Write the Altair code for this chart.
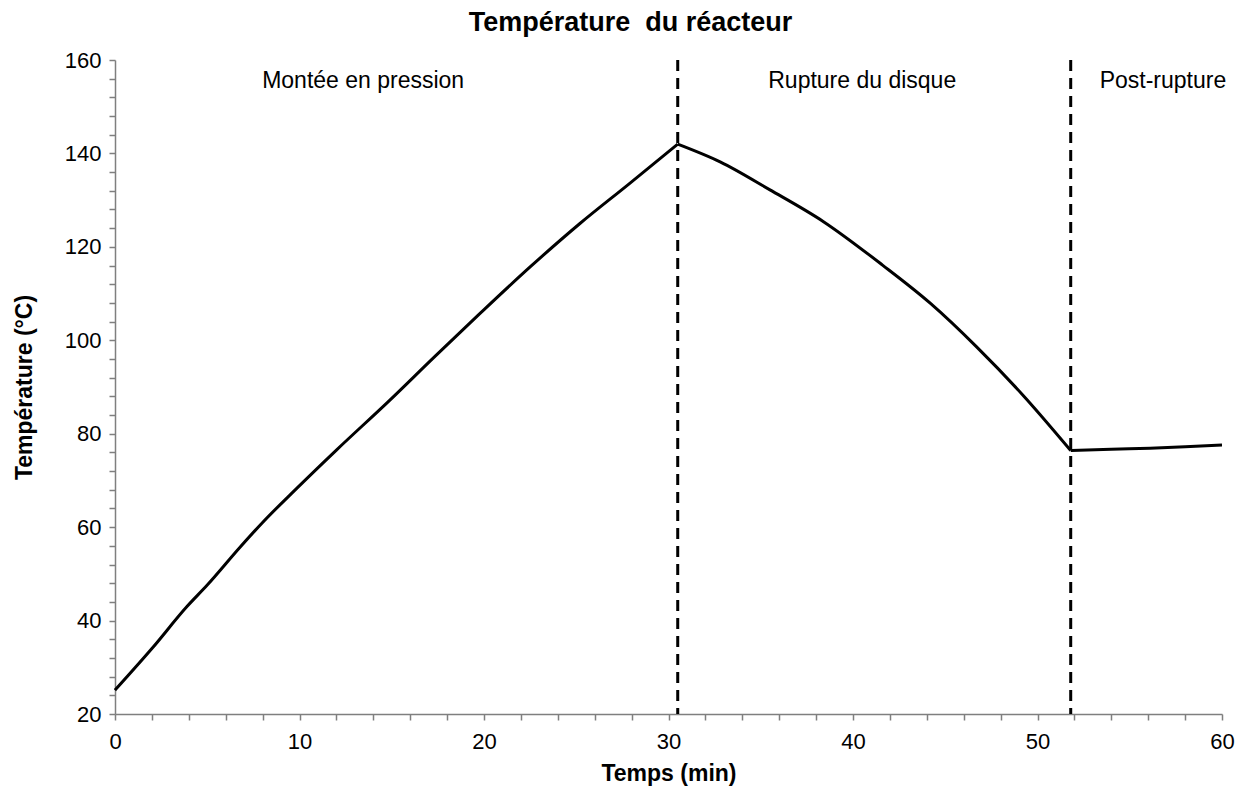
import altair as alt
import pandas as pd

# Temperature curve, split by phase
time_min = [0, 2.0, 3.9, 5.0, 6.8, 8.0, 9.85, 12.0, 14.9, 17.3, 19.8, 22.5, 25.2, 27.9, 30.5,
            30.5, 32.8, 35.5, 38.4, 41.6, 44.2, 46.7, 49.2, 51.8,
            51.8, 54.0, 56.1, 58.0, 60.0]
temp_c = [25.1, 34.0, 43.0, 47.6, 55.8, 61.0, 68.3, 76.5, 87.2, 96.4, 105.8, 115.7, 125.0, 133.6, 142.0,
          142.0, 138.2, 132.2, 125.4, 116.1, 107.9, 98.6, 88.3, 76.4,
          76.4, 76.7, 76.9, 77.2, 77.6]
segment = ["a"] * 15 + ["b"] * 9 + ["c"] * 5

# Phase boundaries (dashed lines)
phase_limits = [30.5, 51.8]

# Phase labels
phase_names = ["Montée en pression", "Rupture du disque", "Post-rupture"]
phase_label_x = [13.45, 40.5, 56.8]
phase_label_y = [155.6, 155.6, 155.6]

x_ticks = [v for v in range(0, 61, 2)]
y_ticks = [v for v in range(20, 161, 4)]

curve = pd.DataFrame({"t": time_min, "T": temp_c, "seg": segment})
limits = pd.DataFrame({"t": phase_limits})
labels = pd.DataFrame({"t": phase_label_x, "T": phase_label_y, "name": phase_names})

FONT = "Liberation Sans"

x_scale = alt.Scale(domain=[0, 60], nice=False, zero=False)
y_scale = alt.Scale(domain=[20, 160], nice=False, zero=False)

common = dict(
    grid=False, tickSize=6, domainColor="#7f7f7f", tickColor="#7f7f7f",
    domainWidth=1.5, tickWidth=1.5, labelColor="#000000", labelFontSize=22,
    labelFont=FONT, titleFont=FONT, titleFontSize=23, titleFontWeight="bold",
    titleColor="#000000", labelFlush=False, labelOverlap=False, labelBound=False,
    tickCount=200, format="d",
)
x_axis = alt.Axis(
    title="Temps (min)", values=x_ticks,
    labelExpr="datum.value % 10 == 0 ? datum.label : ''",
    labelPadding=11, titlePadding=10, **common,
)
y_axis = alt.Axis(
    title="Température (°C)", values=y_ticks,
    labelExpr="datum.value % 20 == 0 ? datum.label : ''",
    labelPadding=8, titlePadding=28, **common,
)

line = alt.Chart(curve).mark_line(color="#000000", strokeWidth=3, interpolate="monotone").encode(
    x=alt.X("t:Q", scale=x_scale, axis=x_axis),
    y=alt.Y("T:Q", scale=y_scale, axis=y_axis),
    detail="seg:N",
)

rules = alt.Chart(limits).mark_rule(color="#000000", strokeWidth=3, strokeDash=[11, 7]).encode(
    x=alt.X("t:Q", scale=x_scale),
)

texts = alt.Chart(labels).mark_text(font=FONT, fontSize=23, color="#000000").encode(
    x=alt.X("t:Q", scale=x_scale),
    y=alt.Y("T:Q", scale=y_scale),
    text="name:N",
)

chart = alt.layer(rules, line, texts).properties(
    width=1107, height=654,
    title=alt.TitleParams("Température\u00a0 du réacteur", font=FONT, fontSize=27,
                          fontWeight="bold", color="#000000", anchor="middle",
                          dx=-38, offset=12),
    autosize=alt.AutoSizeParams(type="none"),
    padding={"left": 107, "top": 52, "right": 19, "bottom": 76},
).configure_view(stroke=None)

chart.save("out.html", embed_options={"renderer": "svg", "actions": False})
